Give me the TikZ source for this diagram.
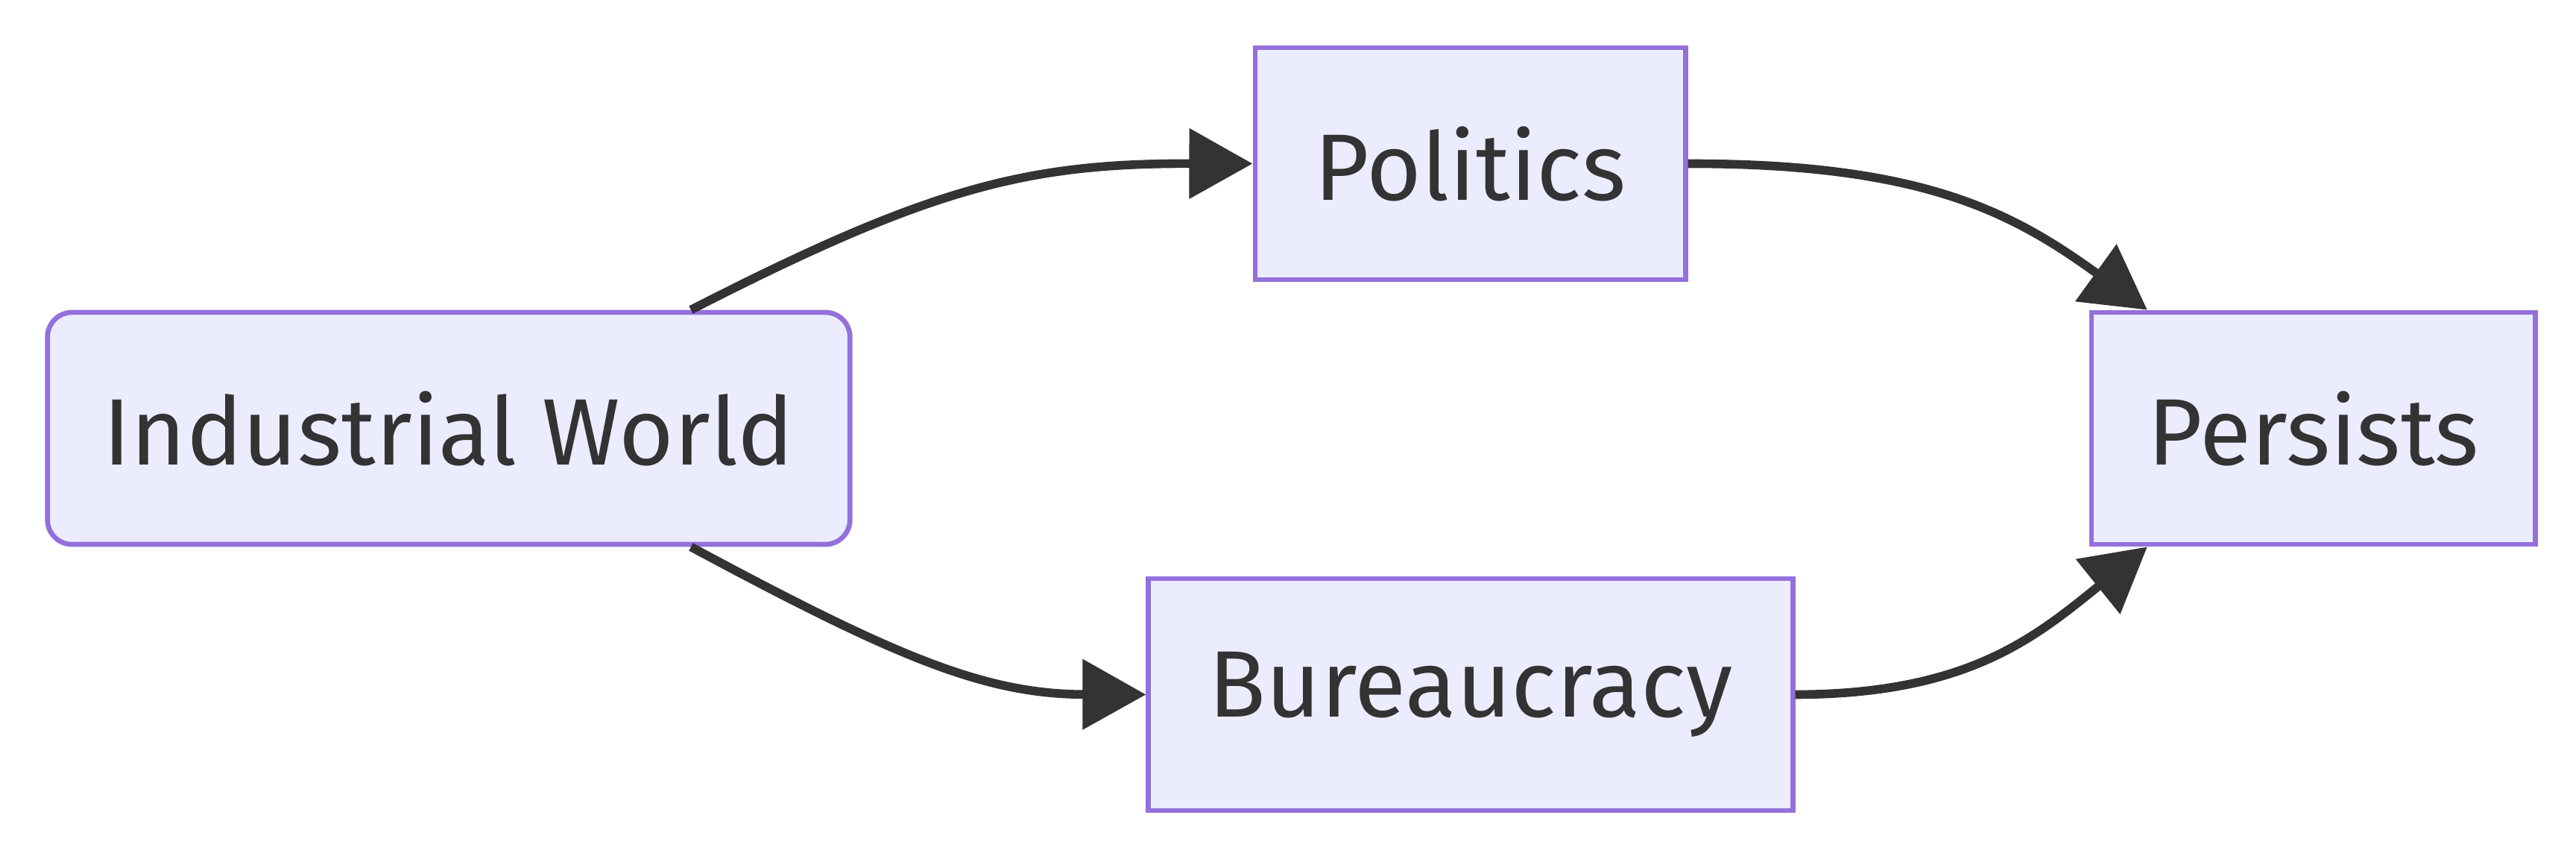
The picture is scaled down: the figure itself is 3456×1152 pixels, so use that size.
\documentclass[tikz,border=0pt]{standalone}
\usepackage{fontspec}
\setmainfont{Fira Sans}
\usetikzlibrary{arrows.meta,calc}
\definecolor{nodefill}{HTML}{ECECFF}
\definecolor{nodeline}{HTML}{9370DB}
\definecolor{ink}{HTML}{333333}
\tikzset{
  box/.style={draw=nodeline, fill=nodefill, line width=1.9pt, text=ink,
    minimum height=3.11cm, inner sep=0pt, font=\fontsize{36}{40}\selectfont},
  link/.style={draw=ink, line width=3.3pt, -{Triangle[length=8.5mm,width=9.2mm]}}
}
\begin{document}
\begin{tikzpicture}[x=0.01cm,y=-0.01cm]
\useasboundingbox (0,0) rectangle (3456,1152);
\node[box, rounded corners=0.33cm, minimum width=10.76cm] (iw) at (602,574.5) {Industrial World};
\node[box, minimum width=5.77cm] (pol) at (1972.5,219.5) {Politics};
\node[box, minimum width=5.95cm] (per) at (3103.5,574.5) {Persists};
\node[box, minimum width=8.64cm] (bur) at (1973,931.5) {Bureaucracy};
\coordinate (iwt) at ($(iw.north west)!0.8!(iw.north east)$);
\coordinate (iwb) at ($(iw.south west)!0.8!(iw.south east)$);
\coordinate (pert) at ($(per.north west)!0.13!(per.north east)$);
\coordinate (perb) at ($(per.south west)!0.13!(per.south east)$);
\draw[link] (iwt) .. controls (1250,250) and (1380,219) .. (pol.west);
\draw[link] (iwb) .. controls (1200,880) and (1320,931) .. (bur.west);
\draw[link] (pol.east) .. controls (2580,219) and (2700,285) .. (pert);
\draw[link] (bur.east) .. controls (2640,931) and (2730,855) .. (perb);
\end{tikzpicture}
\end{document}
